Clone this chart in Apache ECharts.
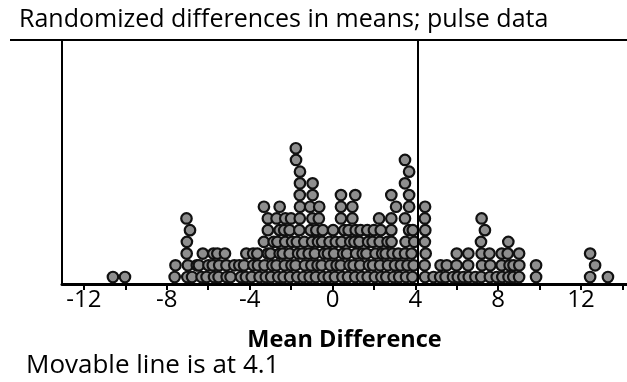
<!DOCTYPE html>
<html>
<head>
<meta charset="utf-8">
<script src="https://cdn.jsdelivr.net/npm/echarts@6/dist/echarts.min.js"></script>
<style>
  html, body { margin: 0; padding: 0; background: #fff; }
  #chart { width: 627px; height: 382px; }
</style>
</head>
<body>
<div id="chart"></div>
<script>
// Randomized differences in mean pulse, one value per re-randomization
const diffsLeftTail = [
  -10.60, -10.02, -7.62, -7.58,
  -7.01, -6.98, -7.04, -7.03, -6.88, -7.05,
  -6.78, -6.55,
  -6.32, -6.45, -6.26,
  -6.08, -5.99,
  -5.72, -5.78, -5.75,
  -5.50, -5.47, -5.56,
  -5.11, -5.12, -5.19
];
const diffsCentreLeft = [
  -4.92, -4.74,
  -4.42, -4.50,
  -4.18, -4.27, -4.16,
  -3.90, -3.82, -3.83,
  -3.52, -3.60, -3.63,
  -3.22, -3.28, -3.12, -3.31, -3.12, -3.12, -3.31,
  -2.96, -2.90, -2.99, -2.84,
  -2.62, -2.70, -2.55, -2.66, -2.55, -2.70, -2.55,
  -2.36, -2.30, -2.40, -2.28, -2.33, -2.28,
  -2.05, -1.98, -2.07, -1.95, -2.07, -2.00
];
const diffsCentre = [
  -1.70, -1.78, -1.66, -1.72, -1.60, -1.58, -1.57, -1.58, -1.57, -1.57, -1.76, -1.77,
  -1.40, -1.33, -1.46, -1.36,
  -1.10, -1.02, -1.15, -0.98, -1.05, -0.97, -1.08, -0.96, -0.96,
  -0.80, -0.72, -0.85, -0.70, -0.78, -0.66, -0.64,
  -0.44, -0.52, -0.40, -0.50, -0.47,
  -0.18, -0.10, -0.22, -0.14,
  0.12, 0.20, 0.08, 0.16, 0.03,
  0.48, 0.40, 0.52, 0.44, 0.57, 0.41, 0.41, 0.41,
  0.75, 0.82, 0.70, 0.86, 0.78,
  1.10, 1.02, 1.14, 1.06, 1.12, 0.96, 0.96, 1.10
];
const diffsCentreRight = [
  1.42, 1.34, 1.46, 1.30, 1.36,
  1.70, 1.76, 1.64, 1.72, 1.68,
  2.05, 1.96, 2.08, 1.94, 2.00,
  2.36, 2.30, 2.40, 2.28, 2.33, 2.25,
  2.60, 2.68, 2.57, 2.66,
  2.95, 3.02, 2.90, 2.85, 2.84, 2.84, 3.07, 2.84,
  3.22, 3.30, 3.18,
  3.55, 3.62, 3.50, 3.53, 3.70, 3.50, 3.70, 3.70, 3.50, 3.70, 3.50,
  3.86, 3.92, 3.82, 3.95, 3.88
];
const diffsRightTail = [
  4.47, 4.45, 4.50, 4.46, 4.48, 4.46, 4.47,
  4.88, 5.20, 5.22, 5.46, 5.52, 5.82,
  6.05, 5.99, 6.00, 6.32, 6.58, 6.55, 6.56, 6.90,
  7.18, 7.22, 7.20, 7.17, 7.36, 7.20,
  7.60, 7.62, 7.58, 7.93, 8.20, 8.17, 8.17,
  8.50, 8.55, 8.46, 8.49, 8.73, 8.74, 9.01, 9.02, 9.01,
  9.83, 9.83, 12.44, 12.68, 12.44, 13.30
];

const tickValues = [-12, -10, -8, -6, -4, -2, 0, 2, 4, 6, 8, 10, 12, 14];
const tickLabels = [-12, -8, -4, 0, 4, 8, 12];
const movableLineAt = 4.1;

const titleText = 'Randomized differences in means; pulse data';
const axisTitle = 'Mean Difference';

// Dot-plot stacking: values falling in the same narrow bin pile up
const BIN_WIDTH = 0.31;
const allDiffs = [].concat(diffsLeftTail, diffsCentreLeft, diffsCentre, diffsCentreRight, diffsRightTail);
const binCounts = {};
const dots = allDiffs.map(function (v) {
  const bin = Math.floor(v / BIN_WIDTH + 1e-9);
  const level = binCounts[bin] || 0;
  binCounts[bin] = level + 1;
  return [v, level + 0.6];
});

const FONT = "'Open Sans', sans-serif";
const chart = echarts.init(document.getElementById('chart'), null, { renderer: 'canvas' });

chart.setOption({
  animation: false,
  backgroundColor: '#fff',
  title: {
    text: titleText,
    left: 19,
    top: 7,
    padding: 0,
    textStyle: { fontFamily: FONT, fontSize: 25, fontWeight: 'normal', color: '#000' }
  },
  grid: { left: 62, right: 0, top: 40, bottom: 98, outerBoundsMode: 'none' },
  xAxis: {
    type: 'value',
    min: -13.06,
    max: 14.22,
    axisLine: { show: true, onZero: false, lineStyle: { color: '#000', width: 3 } },
    axisTick: { show: true, customValues: tickValues, length: 6, lineStyle: { color: '#000', width: 2 } },
    axisLabel: { show: true, customValues: tickLabels, fontFamily: FONT, fontSize: 24, color: '#000', margin: 4 },
    splitLine: { show: false },
    name: axisTitle,
    nameLocation: 'middle',
    nameGap: 44,
    nameTextStyle: { fontFamily: FONT, fontSize: 23.5, fontWeight: 'bold', color: '#000' }
  },
  yAxis: {
    type: 'value',
    min: 0,
    max: 20.85,
    axisLine: { show: true, onZero: false, lineStyle: { color: '#000', width: 2 } },
    axisTick: { show: false },
    axisLabel: { show: false },
    splitLine: { show: false }
  },
  graphic: [
    {
      type: 'line',
      shape: { x1: 10, y1: 40, x2: 627, y2: 40 },
      style: { stroke: '#000', lineWidth: 2 },
      z: 10
    },
    {
      type: 'text',
      left: 26,
      top: 353,
      style: { text: 'Movable line is at ' + movableLineAt, font: '26px ' + FONT, fill: '#000' }
    }
  ],
  series: [{
    type: 'scatter',
    data: dots,
    symbol: 'circle',
    symbolSize: 10.5,
    itemStyle: { color: '#8e8e8e', borderColor: '#111', borderWidth: 2.2, opacity: 1 },
    emphasis: { disabled: true },
    silent: true,
    markLine: {
      silent: true,
      symbol: 'none',
      z: 10,
      label: { show: false },
      lineStyle: { color: '#000', width: 2, type: 'solid' },
      data: [{ xAxis: movableLineAt }]
    }
  }]
});
</script>
</body>
</html>
